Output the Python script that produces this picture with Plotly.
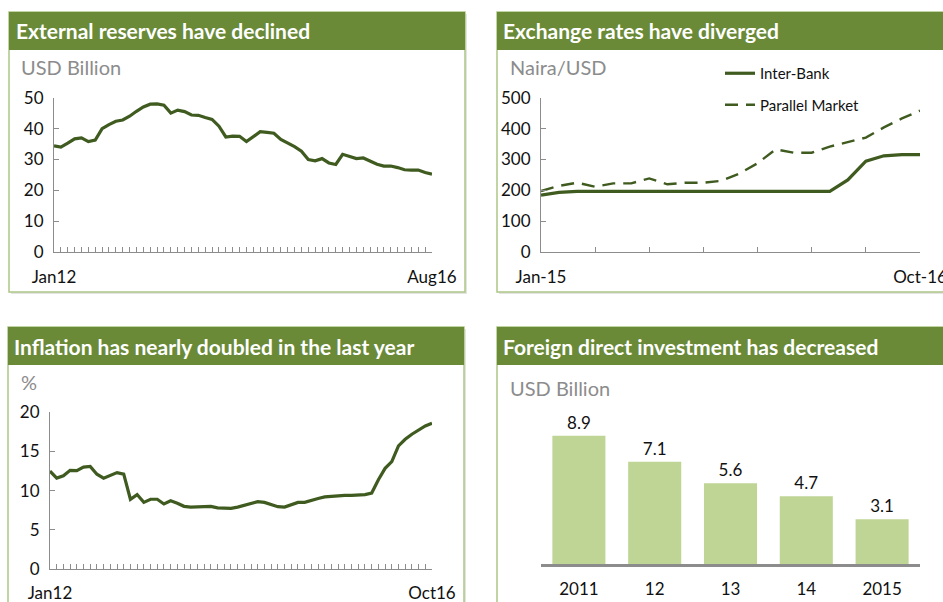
import plotly.graph_objects as go
import pandas as pd

# ---------------- data ----------------
reserve_months = list(pd.date_range("2012-01-01", "2016-08-01", freq="MS").strftime("%b%y"))
reserves = [34.4, 34.0, 35.3, 36.7, 37.0, 35.8, 36.3, 40.0, 41.3, 42.4,
            42.8, 44.0, 45.6, 47.0, 47.9, 48.0, 47.6, 45.0, 46.0, 45.5,
            44.4, 44.3, 43.6, 43.0, 40.8, 37.3, 37.6, 37.5, 35.8, 37.4,
            39.0, 38.8, 38.5, 36.5, 35.3, 34.2, 32.7, 30.0, 29.6, 30.3,
            28.9, 28.4, 31.7, 30.9, 30.3, 30.5, 29.5, 28.5, 27.9, 27.9,
            27.4, 26.7, 26.6, 26.6, 25.8, 25.3]

fx_months = list(pd.date_range("2015-01-01", "2016-10-01", freq="MS").strftime("%b-%y"))
interbank = [185, 194, 197, 197, 197, 197, 197, 197, 197, 197, 197,
             197, 197, 197, 197, 197, 197, 234, 295, 312, 316, 316]
parallel = [198, 215, 225, 212, 223, 223, 239, 220, 225, 225, 231,
            255, 288, 333, 322, 322, 342, 356, 371, 404, 433, 458]

infl_months = list(pd.date_range("2012-01-01", "2016-10-01", freq="MS").strftime("%b%y"))
inflation = [12.5, 11.6, 11.9, 12.6, 12.55, 13.0, 13.1, 12.1, 11.6, 11.9, 12.3, 12.1,
             8.9, 9.5, 8.5, 8.9, 8.9, 8.3, 8.7, 8.4, 8.0, 7.9, 7.9, 7.9,
             8.0, 7.8, 7.75, 7.75, 7.9, 8.1, 8.3, 8.6, 8.5, 8.2, 7.95, 7.9,
             8.25, 8.5, 8.5, 8.8, 9.0, 9.2, 9.3, 9.4, 9.4, 9.4, 9.4, 9.5,
             9.7, 11.4, 12.85, 13.7, 15.7, 16.55, 17.2, 17.7, 18.25, 18.6]

fdi_years = ["2011", "12", "13", "14", "2015"]
fdi_values = [8.9, 7.1, 5.6, 4.7, 3.1]

titles = ["External reserves have declined", "Exchange rates have diverged",
          "Inflation has nearly doubled in the last year", "Foreign direct investment has decreased"]
units = ["USD Billion", "Naira/USD", "%", "USD Billion"]

# ---------------- styling ----------------
W, H = 943, 602
def X(p): return p / W
def Y(p): return 1 - p / H

LINE = "#3f5b1f"
BAR = "#bfd595"
TITLE_BG = "#6a8a38"
BORDER = "#adc685"
AXIS = "#8c8c8c"
FONT = "Lato"

fig = go.Figure()

fig.add_trace(go.Scatter(x=reserve_months, y=reserves, mode="lines",
                         line=dict(color=LINE, width=3.2), xaxis="x", yaxis="y",
                         showlegend=False))
fig.add_trace(go.Scatter(x=fx_months, y=interbank, mode="lines", name="Inter-Bank",
                         line=dict(color=LINE, width=3.2), xaxis="x2", yaxis="y2",
                         legendgroup="a"))
fig.add_trace(go.Scatter(x=fx_months, y=parallel, mode="lines", name="Parallel Market",
                         line=dict(color=LINE, width=2.4, dash="13px,8px"), xaxis="x2", yaxis="y2",
                         legendgroup="b"))
fig.add_trace(go.Scatter(x=infl_months, y=inflation, mode="lines",
                         line=dict(color=LINE, width=3.2), xaxis="x3", yaxis="y3",
                         showlegend=False))
fig.add_trace(go.Bar(x=fdi_years, y=fdi_values, marker=dict(color=BAR, line=dict(width=0)),
                     text=[f"{v:.1f}" for v in fdi_values], textposition="outside",
                     textfont=dict(size=17, color="#111", family=FONT), cliponaxis=False,
                     xaxis="x4", yaxis="y4", showlegend=False))

tickfont = dict(size=17, color="#111", family=FONT)

def line_x(domain, cats, labelled, anchor, standoff=9):
    return dict(domain=domain, type="category", range=[0, len(cats) - 1],
                tickmode="array", tickvals=labelled,
                ticktext=[c if c in (cats[0], cats[-1]) else "" for c in labelled],
                showline=True, linecolor=AXIS, linewidth=1, ticks="inside", ticklen=5,
                tickcolor=AXIS, showgrid=False, zeroline=False, tickfont=tickfont,
                ticklabelstandoff=standoff, anchor=anchor, fixedrange=True, automargin=False)

def line_y(domain, rng, dtick, anchor):
    return dict(domain=domain, range=rng, dtick=dtick, showline=True, linecolor=AXIS,
                linewidth=1, ticks="inside", ticklen=5, tickcolor=AXIS, showgrid=False,
                zeroline=False, tickfont=tickfont, ticklabelstandoff=6, anchor=anchor,
                fixedrange=True, automargin=False)

fx_ticks = fx_months[::3]

fig.update_layout(
    width=W, height=H, margin=dict(l=0, r=0, t=0, b=0, pad=0, autoexpand=False),
    paper_bgcolor="white", plot_bgcolor="rgba(0,0,0,0)",
    font=dict(family=FONT, color="#111"),
    xaxis=line_x([X(54), X(432)], reserve_months, reserve_months, "y"),
    yaxis=line_y([Y(252.3), Y(97.7)], [0, 50], 10, "x"),
    xaxis2=line_x([X(541), X(920)], fx_months, fx_ticks, "y2"),
    yaxis2=line_y([Y(252.3), Y(97.7)], [0, 500], 100, "x2"),
    xaxis3=line_x([X(50), X(432)], infl_months, infl_months, "y3", standoff=9),
    yaxis3=line_y([Y(569), Y(412.3)], [0, 20], 5, "x3"),
    xaxis4=dict(domain=[X(541), X(920)], type="category", showline=True, linecolor=AXIS,
                linewidth=3, ticks="", showgrid=False, zeroline=False, tickfont=tickfont,
                ticklabelstandoff=8, anchor="y4", fixedrange=True, automargin=False),
    yaxis4=dict(domain=[Y(564), Y(420)], range=[0, 10], visible=False, anchor="x4",
                fixedrange=True, automargin=False),
    bargap=0.3,
    legend=dict(x=X(720), y=Y(57), xanchor="left", yanchor="top", bgcolor="rgba(0,0,0,0)",
                font=dict(size=15, color="#111", family=FONT), tracegroupgap=9,
                itemwidth=30),
)

# panels
panels = [(9, 12, 465, 292), (497, 12, 960, 292), (8, 327, 464, 620), (497, 327, 960, 620)]
title_pos = [(14, 31), (501, 31), (12, 346), (501, 346)]
unit_pos = [(19, 67), (508, 67), (19, 382), (508, 388)]
shapes = []
annotations = []
for (x0, y0, x1, y1), (tx, ty), (ux, uy), t, u in zip(panels, title_pos, unit_pos, titles, units):
    shapes.append(dict(type="rect", xref="paper", yref="paper", x0=X(x0 + 2), x1=X(x1 + 2),
                       y0=Y(y1 + 2), y1=Y(y0 + 2), fillcolor="#e4e4e4", line=dict(width=0),
                       layer="below"))
    shapes.append(dict(type="rect", xref="paper", yref="paper", x0=X(x0), x1=X(x1),
                       y0=Y(y1), y1=Y(y0), fillcolor="white", line=dict(color=BORDER, width=1.5),
                       layer="below"))
    shapes.append(dict(type="rect", xref="paper", yref="paper", x0=X(x0), x1=X(x1),
                       y0=Y(y0 + 38), y1=Y(y0), fillcolor=TITLE_BG, line=dict(width=0),
                       layer="below"))
    annotations.append(dict(text=f"<b>{t}</b>", x=X(tx), y=Y(ty), xref="paper", yref="paper",
                            xanchor="left", yanchor="middle", showarrow=False,
                            font=dict(size=21, color="white", family=FONT)))
    annotations.append(dict(text=u, x=X(ux), y=Y(uy), xref="paper", yref="paper",
                            xanchor="left", yanchor="middle", showarrow=False,
                            font=dict(size=20, color="#8c8c8c", family=FONT)))

fig.update_layout(shapes=shapes, annotations=annotations)
fig.write_html("out.html", config={"displayModeBar": False},
               post_script="document.body.style.margin='0';document.body.style.overflow='hidden';")
